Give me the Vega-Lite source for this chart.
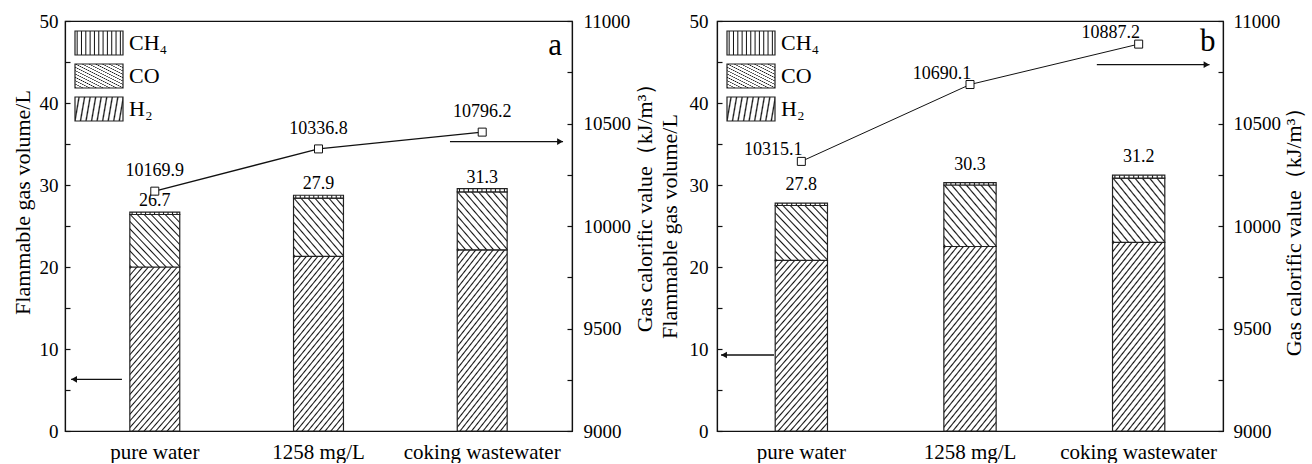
{
"$schema":"https://vega.github.io/schema/vega-lite/v6.json",
"padding":{"left":10,"top":11,"right":0,"bottom":0},
"params":[
{"name":"gH2","value":{"gradient":"linear","x1":0,"y1":0,"x2":0.42,"y2":1.2,"stops":[
{"offset":0,"color":"#fff"},{"offset":0.007,"color":"#111"},{"offset":0.014,"color":"#fff"},
{"offset":0.03,"color":"#fff"},{"offset":0.037,"color":"#111"},{"offset":0.044,"color":"#fff"},
{"offset":0.06,"color":"#fff"},{"offset":0.067,"color":"#111"},{"offset":0.074,"color":"#fff"},
{"offset":0.09,"color":"#fff"},{"offset":0.097,"color":"#111"},{"offset":0.104,"color":"#fff"},
{"offset":0.12,"color":"#fff"},{"offset":0.127,"color":"#111"},{"offset":0.134,"color":"#fff"},
{"offset":0.15,"color":"#fff"},{"offset":0.157,"color":"#111"},{"offset":0.164,"color":"#fff"},
{"offset":0.18,"color":"#fff"},{"offset":0.187,"color":"#111"},{"offset":0.194,"color":"#fff"},
{"offset":0.21,"color":"#fff"},{"offset":0.217,"color":"#111"},{"offset":0.224,"color":"#fff"},
{"offset":0.24,"color":"#fff"},{"offset":0.247,"color":"#111"},{"offset":0.254,"color":"#fff"},
{"offset":0.27,"color":"#fff"},{"offset":0.277,"color":"#111"},{"offset":0.284,"color":"#fff"},
{"offset":0.3,"color":"#fff"},{"offset":0.307,"color":"#111"},{"offset":0.314,"color":"#fff"},
{"offset":0.33,"color":"#fff"},{"offset":0.337,"color":"#111"},{"offset":0.344,"color":"#fff"},
{"offset":0.36,"color":"#fff"},{"offset":0.367,"color":"#111"},{"offset":0.374,"color":"#fff"},
{"offset":0.39,"color":"#fff"},{"offset":0.397,"color":"#111"},{"offset":0.404,"color":"#fff"},
{"offset":0.42,"color":"#fff"},{"offset":0.427,"color":"#111"},{"offset":0.434,"color":"#fff"},
{"offset":0.45,"color":"#fff"},{"offset":0.457,"color":"#111"},{"offset":0.464,"color":"#fff"},
{"offset":0.48,"color":"#fff"},{"offset":0.487,"color":"#111"},{"offset":0.494,"color":"#fff"},
{"offset":0.51,"color":"#fff"},{"offset":0.517,"color":"#111"},{"offset":0.524,"color":"#fff"},
{"offset":0.54,"color":"#fff"},{"offset":0.547,"color":"#111"},{"offset":0.554,"color":"#fff"},
{"offset":0.57,"color":"#fff"},{"offset":0.577,"color":"#111"},{"offset":0.584,"color":"#fff"},
{"offset":0.6,"color":"#fff"},{"offset":0.607,"color":"#111"},{"offset":0.614,"color":"#fff"},
{"offset":0.63,"color":"#fff"},{"offset":0.637,"color":"#111"},{"offset":0.644,"color":"#fff"},
{"offset":0.66,"color":"#fff"},{"offset":0.667,"color":"#111"},{"offset":0.674,"color":"#fff"},
{"offset":0.69,"color":"#fff"},{"offset":0.697,"color":"#111"},{"offset":0.704,"color":"#fff"},
{"offset":0.72,"color":"#fff"},{"offset":0.727,"color":"#111"},{"offset":0.734,"color":"#fff"},
{"offset":0.75,"color":"#fff"},{"offset":0.757,"color":"#111"},{"offset":0.764,"color":"#fff"},
{"offset":0.78,"color":"#fff"},{"offset":0.787,"color":"#111"},{"offset":0.794,"color":"#fff"},
{"offset":0.81,"color":"#fff"},{"offset":0.817,"color":"#111"},{"offset":0.824,"color":"#fff"},
{"offset":0.84,"color":"#fff"},{"offset":0.847,"color":"#111"},{"offset":0.854,"color":"#fff"},
{"offset":0.87,"color":"#fff"},{"offset":0.877,"color":"#111"},{"offset":0.884,"color":"#fff"},
{"offset":0.9,"color":"#fff"},{"offset":0.907,"color":"#111"},{"offset":0.914,"color":"#fff"},
{"offset":0.93,"color":"#fff"},{"offset":0.937,"color":"#111"},{"offset":0.944,"color":"#fff"},
{"offset":0.96,"color":"#fff"},{"offset":0.967,"color":"#111"},{"offset":0.974,"color":"#fff"},
{"offset":1,"color":"#fff"}]}},
{"name":"gCO","value":{"gradient":"linear","x1":0,"y1":1,"x2":1,"y2":0,"stops":[
{"offset":0,"color":"#fff"},{"offset":0.014,"color":"#111"},{"offset":0.028,"color":"#fff"},
{"offset":0.07,"color":"#fff"},{"offset":0.084,"color":"#111"},{"offset":0.098,"color":"#fff"},
{"offset":0.14,"color":"#fff"},{"offset":0.154,"color":"#111"},{"offset":0.168,"color":"#fff"},
{"offset":0.21,"color":"#fff"},{"offset":0.224,"color":"#111"},{"offset":0.238,"color":"#fff"},
{"offset":0.28,"color":"#fff"},{"offset":0.294,"color":"#111"},{"offset":0.308,"color":"#fff"},
{"offset":0.35,"color":"#fff"},{"offset":0.364,"color":"#111"},{"offset":0.378,"color":"#fff"},
{"offset":0.42,"color":"#fff"},{"offset":0.434,"color":"#111"},{"offset":0.448,"color":"#fff"},
{"offset":0.49,"color":"#fff"},{"offset":0.504,"color":"#111"},{"offset":0.518,"color":"#fff"},
{"offset":0.56,"color":"#fff"},{"offset":0.574,"color":"#111"},{"offset":0.588,"color":"#fff"},
{"offset":0.63,"color":"#fff"},{"offset":0.644,"color":"#111"},{"offset":0.658,"color":"#fff"},
{"offset":0.7,"color":"#fff"},{"offset":0.714,"color":"#111"},{"offset":0.728,"color":"#fff"},
{"offset":0.77,"color":"#fff"},{"offset":0.784,"color":"#111"},{"offset":0.798,"color":"#fff"},
{"offset":0.84,"color":"#fff"},{"offset":0.854,"color":"#111"},{"offset":0.868,"color":"#fff"},
{"offset":0.91,"color":"#fff"},{"offset":0.924,"color":"#111"},{"offset":0.938,"color":"#fff"},
{"offset":1,"color":"#fff"}]}},
{"name":"gCH4","value":{"gradient":"linear","x1":0,"y1":0,"x2":1,"y2":0,"stops":[
{"offset":0,"color":"#fff"},
{"offset":0.024,"color":"#fff"},{"offset":0.045,"color":"#111"},{"offset":0.066,"color":"#fff"},
{"offset":0.114,"color":"#fff"},{"offset":0.135,"color":"#111"},{"offset":0.156,"color":"#fff"},
{"offset":0.204,"color":"#fff"},{"offset":0.225,"color":"#111"},{"offset":0.246,"color":"#fff"},
{"offset":0.294,"color":"#fff"},{"offset":0.315,"color":"#111"},{"offset":0.336,"color":"#fff"},
{"offset":0.384,"color":"#fff"},{"offset":0.405,"color":"#111"},{"offset":0.426,"color":"#fff"},
{"offset":0.474,"color":"#fff"},{"offset":0.495,"color":"#111"},{"offset":0.516,"color":"#fff"},
{"offset":0.564,"color":"#fff"},{"offset":0.585,"color":"#111"},{"offset":0.606,"color":"#fff"},
{"offset":0.654,"color":"#fff"},{"offset":0.675,"color":"#111"},{"offset":0.696,"color":"#fff"},
{"offset":0.744,"color":"#fff"},{"offset":0.765,"color":"#111"},{"offset":0.786,"color":"#fff"},
{"offset":0.834,"color":"#fff"},{"offset":0.855,"color":"#111"},{"offset":0.876,"color":"#fff"},
{"offset":0.924,"color":"#fff"},{"offset":0.945,"color":"#111"},{"offset":0.966,"color":"#fff"},
{"offset":1,"color":"#fff"}]}},
{"name":"lCO","value":{"gradient":"linear","x1":0,"y1":1,"x2":1.2,"y2":0.4,"stops":[
{"offset":0,"color":"#fff"},{"offset":0.02,"color":"#111"},{"offset":0.04,"color":"#fff"},
{"offset":0.08,"color":"#fff"},{"offset":0.1,"color":"#111"},{"offset":0.12,"color":"#fff"},
{"offset":0.16,"color":"#fff"},{"offset":0.18,"color":"#111"},{"offset":0.2,"color":"#fff"},
{"offset":0.24,"color":"#fff"},{"offset":0.26,"color":"#111"},{"offset":0.28,"color":"#fff"},
{"offset":0.32,"color":"#fff"},{"offset":0.34,"color":"#111"},{"offset":0.36,"color":"#fff"},
{"offset":0.4,"color":"#fff"},{"offset":0.42,"color":"#111"},{"offset":0.44,"color":"#fff"},
{"offset":0.48,"color":"#fff"},{"offset":0.5,"color":"#111"},{"offset":0.52,"color":"#fff"},
{"offset":0.56,"color":"#fff"},{"offset":0.58,"color":"#111"},{"offset":0.6,"color":"#fff"},
{"offset":0.64,"color":"#fff"},{"offset":0.66,"color":"#111"},{"offset":0.68,"color":"#fff"},
{"offset":0.72,"color":"#fff"},{"offset":0.74,"color":"#111"},{"offset":0.76,"color":"#fff"},
{"offset":0.8,"color":"#fff"},{"offset":0.82,"color":"#111"},{"offset":0.84,"color":"#fff"},
{"offset":0.88,"color":"#fff"},{"offset":0.9,"color":"#111"},{"offset":0.92,"color":"#fff"},
{"offset":0.96,"color":"#fff"},{"offset":0.98,"color":"#111"},{"offset":1,"color":"#fff"}]}},
{"name":"lH2","value":{"gradient":"linear","x1":0,"y1":0,"x2":1.2,"y2":0.6,"stops":[
{"offset":0,"color":"#fff"},{"offset":0.02,"color":"#111"},{"offset":0.04,"color":"#fff"},
{"offset":0.08,"color":"#fff"},{"offset":0.1,"color":"#111"},{"offset":0.12,"color":"#fff"},
{"offset":0.16,"color":"#fff"},{"offset":0.18,"color":"#111"},{"offset":0.2,"color":"#fff"},
{"offset":0.24,"color":"#fff"},{"offset":0.26,"color":"#111"},{"offset":0.28,"color":"#fff"},
{"offset":0.32,"color":"#fff"},{"offset":0.34,"color":"#111"},{"offset":0.36,"color":"#fff"},
{"offset":0.4,"color":"#fff"},{"offset":0.42,"color":"#111"},{"offset":0.44,"color":"#fff"},
{"offset":0.48,"color":"#fff"},{"offset":0.5,"color":"#111"},{"offset":0.52,"color":"#fff"},
{"offset":0.56,"color":"#fff"},{"offset":0.58,"color":"#111"},{"offset":0.6,"color":"#fff"},
{"offset":0.64,"color":"#fff"},{"offset":0.66,"color":"#111"},{"offset":0.68,"color":"#fff"},
{"offset":0.72,"color":"#fff"},{"offset":0.74,"color":"#111"},{"offset":0.76,"color":"#fff"},
{"offset":0.8,"color":"#fff"},{"offset":0.82,"color":"#111"},{"offset":0.84,"color":"#fff"},
{"offset":0.88,"color":"#fff"},{"offset":0.9,"color":"#111"},{"offset":0.92,"color":"#fff"},
{"offset":0.96,"color":"#fff"},{"offset":0.98,"color":"#111"},{"offset":1,"color":"#fff"}]}}
],
"config":{
"font":"Liberation Serif",
"view":{"stroke":"#111","strokeWidth":1.2},
"axis":{"labelFont":"Liberation Serif","titleFont":"Liberation Serif","labelColor":"#000","titleColor":"#000","domainColor":"#111","domainWidth":1.2,"tickColor":"#111","tickWidth":1.2,"grid":false,"labelFontSize":19,"titleFontSize":22,"titleFontWeight":"normal"},
"legend":{"orient":"top-left","offset":9,"padding":0,"title":null,"symbolType":"M-2,-1H2V1H-2Z","symbolSize":576,"symbolOffset":12,"labelFont":"Liberation Serif","labelFontSize":22,"labelColor":"#000","labelOffset":17,"rowPadding":3,"symbolStrokeColor":"#222","symbolStrokeWidth":1.2},
"text":{"font":"Liberation Serif","color":"#000"}
},
"datasets":{
"bars_a":[
{"cat":"pure water","gas":"H₂","vol":20.0},{"cat":"pure water","gas":"CO","vol":6.4},{"cat":"pure water","gas":"CH₄","vol":0.3},
{"cat":"1258 mg/L","gas":"H₂","vol":21.3},{"cat":"1258 mg/L","gas":"CO","vol":7.1},{"cat":"1258 mg/L","gas":"CH₄","vol":0.35},
{"cat":"coking wastewater","gas":"H₂","vol":22.1},{"cat":"coking wastewater","gas":"CO","vol":7.05},{"cat":"coking wastewater","gas":"CH₄","vol":0.4}],
"tops_a":[{"cat":"pure water","top":26.7,"label":"26.7"},{"cat":"1258 mg/L","top":28.75,"label":"27.9"},{"cat":"coking wastewater","top":29.55,"label":"31.3"}],
"line_a":[{"cat":"pure water","cv":10170,"label":"10169.9"},{"cat":"1258 mg/L","cv":10376,"label":"10336.8"},{"cat":"coking wastewater","cv":10458,"label":"10796.2"}],
"arrows_a":[{"x":2.278,"x2":2.947,"y":35.3,"dir":"right"},{"x":0.337,"x2":0.036,"y":6.3,"dir":"left"}],
"letter_a":[{"x":2.9,"y":47,"t":"a"}],
"bars_b":[
{"cat":"pure water","gas":"H₂","vol":20.8},{"cat":"pure water","gas":"CO","vol":6.7},{"cat":"pure water","gas":"CH₄","vol":0.3},
{"cat":"1258 mg/L","gas":"H₂","vol":22.5},{"cat":"1258 mg/L","gas":"CO","vol":7.5},{"cat":"1258 mg/L","gas":"CH₄","vol":0.3},
{"cat":"coking wastewater","gas":"H₂","vol":23.0},{"cat":"coking wastewater","gas":"CO","vol":7.85},{"cat":"coking wastewater","gas":"CH₄","vol":0.35}],
"tops_b":[{"cat":"pure water","top":27.8,"label":"27.8"},{"cat":"1258 mg/L","top":30.3,"label":"30.3"},{"cat":"coking wastewater","top":31.2,"label":"31.2"}],
"line_b":[{"cat":"pure water","cv":10315.1,"label":"10315.1"},{"cat":"1258 mg/L","cv":10690.1,"label":"10690.1"},{"cat":"coking wastewater","cv":10887.2,"label":"10887.2"}],
"arrows_b":[{"x":2.252,"x2":2.92,"y":44.67,"dir":"right"},{"x":0.338,"x2":0.024,"y":9.27,"dir":"left"}],
"letter_b":[{"x":2.91,"y":47.5,"t":"b"}]
},
"spacing":0,
"resolve":{"scale":{"fill":"independent"},"legend":{"fill":"independent"}},
"hconcat":[
{"width":507,"height":410,
"layer":[
{"layer":[
{"layer":[
{"data":{"name":"bars_a"},"mark":{"type":"bar","stroke":"#222","strokeWidth":1.2},
"encoding":{
"x":{"field":"cat","type":"nominal","scale":{"domain":["pure water","1258 mg/L","coking wastewater"],"paddingInner":0.695,"paddingOuter":0.396},"axis":{"title":null,"labelAngle":0,"ticks":false,"labelPadding":10,"labelFontSize":21}},
"y":{"field":"vol","type":"quantitative","stack":"zero","scale":{"domain":[0,50]},"axis":{"title":"Flammable gas volume/L","titleY":181,"values":[0,5,10,15,20,25,30,35,40,45,50],"labelExpr":"datum.value % 10 === 0 ? datum.label : ''","tickSize":-5,"labelPadding":12,"titlePadding":5}},
"fill":{"field":"gas","type":"nominal","scale":{"domain":["CH₄","CO","H₂"],"range":[{"expr":"gCH4"},{"expr":"gCO"},{"expr":"gH2"}]},"legend":{"encode":{"symbols":{"update":{"fill":{"signal":"datum.value === 'CH₄' ? gCH4 : datum.value === 'CO' ? lCO : lH2"},"stroke":{"value":"#222"},"strokeWidth":{"value":1.2}}}}}},
"order":{"field":"gas","sort":"descending"}}},
{"data":{"name":"tops_a"},"mark":{"type":"text","dy":-11,"fontSize":18,"baseline":"middle"},
"encoding":{"x":{"field":"cat","type":"nominal"},"y":{"field":"top","type":"quantitative"},"text":{"field":"label"}}}
]},
{"data":{"name":"line_a"},"layer":[
{"mark":{"type":"line","color":"#111","strokeWidth":1.4},"encoding":{"x":{"field":"cat","type":"nominal"},"y":{"field":"cv","type":"quantitative","scale":{"domain":[9000,11000]},"axis":{"orient":"right","title":"Gas calorific value（kJ/m³）","titleY":181,"titleAngle":270,"titleBaseline":"top","titlePadding":4,"values":[9000,9250,9500,9750,10000,10250,10500,10750,11000],"format":"d","labelExpr":"datum.value % 500 === 0 ? datum.label : ''","tickSize":-5,"labelPadding":16}}}},
{"mark":{"type":"point","shape":"square","size":64,"filled":true,"fill":"#fff","stroke":"#111","strokeWidth":1,"opacity":1},"encoding":{"x":{"field":"cat","type":"nominal"},"y":{"field":"cv","type":"quantitative"}}},
{"mark":{"type":"text","dy":-20,"fontSize":18,"baseline":"middle"},"encoding":{"x":{"field":"cat","type":"nominal"},"y":{"field":"cv","type":"quantitative"},"text":{"field":"label"}}}
]}
],"resolve":{"scale":{"y":"independent"}}},
{"layer":[
{"data":{"name":"arrows_a"},"mark":{"type":"rule","color":"#111","strokeWidth":1.3},"encoding":{"x":{"field":"x","type":"quantitative","scale":{"domain":[0,3]},"axis":null},"x2":{"field":"x2"},"y":{"field":"y","type":"quantitative","scale":{"domain":[0,50]},"axis":null}}},
{"data":{"name":"arrows_a"},"transform":[{"filter":"datum.dir === 'right'"}],"mark":{"type":"point","shape":"triangle-right","size":45,"filled":true,"color":"#111","opacity":1,"xOffset":-3},"encoding":{"x":{"field":"x2","type":"quantitative"},"y":{"field":"y","type":"quantitative"}}},
{"data":{"name":"arrows_a"},"transform":[{"filter":"datum.dir === 'left'"}],"mark":{"type":"point","shape":"triangle-left","size":45,"filled":true,"color":"#111","opacity":1,"xOffset":3},"encoding":{"x":{"field":"x2","type":"quantitative"},"y":{"field":"y","type":"quantitative"}}},
{"data":{"name":"letter_a"},"mark":{"type":"text","fontSize":31,"baseline":"middle","align":"center"},"encoding":{"x":{"field":"x","type":"quantitative"},"y":{"field":"y","type":"quantitative"},"text":{"field":"t"}}}
]}
],
"resolve":{"scale":{"x":"independent","y":"independent"}}},
{"width":506,"height":410,
"layer":[
{"layer":[
{"layer":[
{"data":{"name":"bars_b"},"mark":{"type":"bar","stroke":"#222","strokeWidth":1.2},
"encoding":{
"x":{"field":"cat","type":"nominal","scale":{"domain":["pure water","1258 mg/L","coking wastewater"],"paddingInner":0.69,"paddingOuter":0.345},"axis":{"title":null,"labelAngle":0,"ticks":false,"labelPadding":10,"labelFontSize":21}},
"y":{"field":"vol","type":"quantitative","stack":"zero","scale":{"domain":[0,50]},"axis":{"title":"Flammable gas volume/L","values":[0,5,10,15,20,25,30,35,40,45,50],"labelExpr":"datum.value % 10 === 0 ? datum.label : ''","tickSize":-5,"labelPadding":14,"titlePadding":8}},
"fill":{"field":"gas","type":"nominal","scale":{"domain":["CH₄","CO","H₂"],"range":[{"expr":"gCH4"},{"expr":"gCO"},{"expr":"gH2"}]},"legend":{"encode":{"symbols":{"update":{"fill":{"signal":"datum.value === 'CH₄' ? gCH4 : datum.value === 'CO' ? lCO : lH2"},"stroke":{"value":"#222"},"strokeWidth":{"value":1.2}}}}}},
"order":{"field":"gas","sort":"descending"}}},
{"data":{"name":"tops_b"},"mark":{"type":"text","dy":-18,"fontSize":18,"baseline":"middle"},
"encoding":{"x":{"field":"cat","type":"nominal"},"y":{"field":"top","type":"quantitative"},"text":{"field":"label"}}}
]},
{"data":{"name":"line_b"},"layer":[
{"mark":{"type":"line","color":"#111","strokeWidth":1},"encoding":{"x":{"field":"cat","type":"nominal"},"y":{"field":"cv","type":"quantitative","scale":{"domain":[9000,11000]},"axis":{"orient":"right","title":"Gas calorific value（kJ/m³）","titleAngle":270,"titleBaseline":"top","titlePadding":3,"values":[9000,9250,9500,9750,10000,10250,10500,10750,11000],"format":"d","labelExpr":"datum.value % 500 === 0 ? datum.label : ''","tickSize":-5,"labelPadding":15}}}},
{"mark":{"type":"point","shape":"square","size":64,"filled":true,"fill":"#fff","stroke":"#111","strokeWidth":1,"opacity":1},"encoding":{"x":{"field":"cat","type":"nominal"},"y":{"field":"cv","type":"quantitative"}}},
{"mark":{"type":"text","dx":-28,"dy":-11,"fontSize":18,"baseline":"middle"},"encoding":{"x":{"field":"cat","type":"nominal"},"y":{"field":"cv","type":"quantitative"},"text":{"field":"label"}}}
]}
],"resolve":{"scale":{"y":"independent"}}},
{"layer":[
{"data":{"name":"arrows_b"},"mark":{"type":"rule","color":"#111","strokeWidth":1.3},"encoding":{"x":{"field":"x","type":"quantitative","scale":{"domain":[0,3]},"axis":null},"x2":{"field":"x2"},"y":{"field":"y","type":"quantitative","scale":{"domain":[0,50]},"axis":null}}},
{"data":{"name":"arrows_b"},"transform":[{"filter":"datum.dir === 'right'"}],"mark":{"type":"point","shape":"triangle-right","size":45,"filled":true,"color":"#111","opacity":1,"xOffset":-3},"encoding":{"x":{"field":"x2","type":"quantitative"},"y":{"field":"y","type":"quantitative"}}},
{"data":{"name":"arrows_b"},"transform":[{"filter":"datum.dir === 'left'"}],"mark":{"type":"point","shape":"triangle-left","size":45,"filled":true,"color":"#111","opacity":1,"xOffset":3},"encoding":{"x":{"field":"x2","type":"quantitative"},"y":{"field":"y","type":"quantitative"}}},
{"data":{"name":"letter_b"},"mark":{"type":"text","fontSize":31,"baseline":"middle","align":"center"},"encoding":{"x":{"field":"x","type":"quantitative"},"y":{"field":"y","type":"quantitative"},"text":{"field":"t"}}}
]}
],
"resolve":{"scale":{"x":"independent","y":"independent"}}}
]
}
